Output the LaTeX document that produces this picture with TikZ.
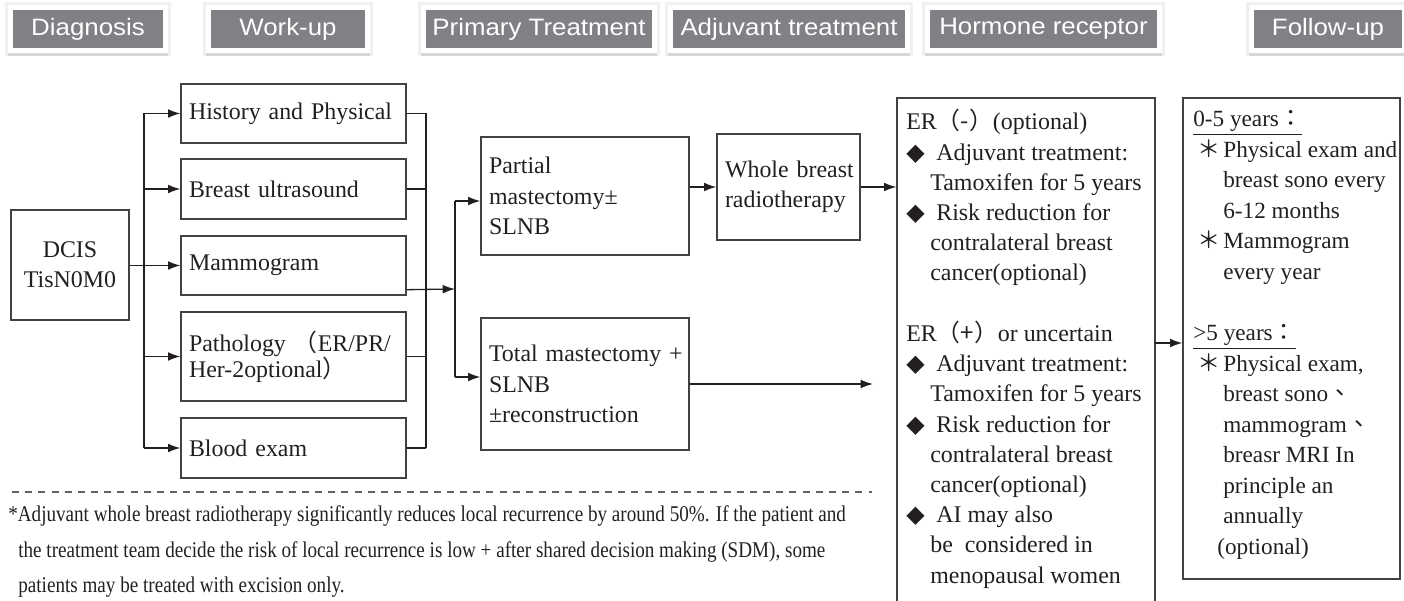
\documentclass[tikz,border=0pt]{standalone}
\usepackage{fontspec}
\setmainfont{Liberation Serif}
\newfontfamily\hdrfont[FakeStretch=1.09]{Liberation Sans}
\newfontfamily\notefont[FakeStretch=0.85]{Liberation Serif}
\newfontfamily\cjk{Noto Sans CJK TC}
\newfontfamily\symfont{DejaVu Sans}
\usetikzlibrary{arrows.meta,calc,shadows}
\definecolor{hdrgray}{RGB}{128,129,133}
\definecolor{ink}{RGB}{35,31,32}
\newcommand{\dia}{{\symfont ◆}}
\newcommand{\astk}{\hspace*{0.08cm}{\cjk ＊}}
\newcommand{\fw}[1]{{\cjk #1}}
\newcommand{\bodysize}{\fontsize{13.6}{17.2}\selectfont}
\tikzset{
  hdr/.style={fill=white,text=white,font=\hdrfont\fontsize{13.5}{14}\selectfont,
    minimum width=#1,minimum height=0.96cm,inner sep=0pt,
    path picture={\fill[hdrgray] ([shift={(0.1cm,0.1cm)}]path picture bounding box.south west)
      rectangle ([shift={(-0.1cm,-0.1cm)}]path picture bounding box.north east);},
    general shadow={shadow xshift=0pt,shadow yshift=0pt,opacity=0.12,fill=gray,draw=gray,line width=3pt},
    drop shadow={shadow xshift=0pt,shadow yshift=-1.5pt,opacity=0.22,fill=gray}},
  box/.style={draw=ink!85,line width=0.8pt,text=ink,font=\bodysize,align=left,
    inner xsep=0.16cm,inner ysep=0pt},
  txt/.style={text=ink,font=\bodysize,align=left,inner sep=0pt,anchor=north west},
  note/.style={text=ink,font=\notefont\fontsize{12.8}{20.4}\selectfont,align=left,
    inner sep=0pt,anchor=north west},
  link/.style={draw=ink,line width=0.75pt},
  arr/.style={link,-{Latex[length=7pt,width=5pt]}},
  sep/.style={draw=ink!70,line width=0.6pt,dash pattern=on 4pt off 3.5pt},
}
\begin{document}
\begin{tikzpicture}[x=0.02cm,y=-0.02cm]
    \useasboundingbox (0,0) rectangle (1404,601);
    % ------------- column headers -------------
    \node[hdr=3.2cm]  (hdiag)   at (88,29)     {Diagnosis};
    \node[hdr=3.28cm] (hwork)   at (288,29)    {Work-up};
    \node[hdr=4.72cm] (hprim)   at (539,29)    {Primary Treatment};
    \node[hdr=4.84cm] (hadj)    at (789,29)    {Adjuvant treatment};
    \node[hdr=4.74cm] (hhorm)   at (1043.5,29) {Hormone receptor};
    \node[hdr=3.16cm] (hfollow) at (1328,29)   {Follow-up};
    % ------------- diagnosis and work-up -------------
    \node[box,align=center,text width=2.04cm,minimum height=2.2cm] (dcis) at (70,265) {DCIS\\TisN0M0};
    \node[box,text width=4.18cm,minimum height=1.18cm] (hist)  at (293.5,113.5) {History and Physical};
    \node[box,text width=4.18cm,minimum height=1.2cm]  (sono)  at (293.5,189)   {Breast ultrasound};
    \node[box,text width=4.18cm,minimum height=1.18cm] (mammo) at (293.5,265.5) {Mammogram};
    \node[box,text width=4.18cm,minimum height=1.78cm,font=\fontsize{13.6}{14.8}\selectfont] (path) at (293.5,356.5)
      {Pathology \fw{（}ER/PR/\\Her-2optional\fw{）}};
    \node[box,text width=4.18cm,minimum height=1.2cm]  (blood) at (293.5,448)   {Blood exam};
    % left bus into the work-up boxes
    \coordinate (lbus) at (144,0);
    \draw[link] (lbus |- hist.west) -- (lbus |- blood.west);
    \foreach \n in {hist,sono,path,blood}
      \draw[arr] (lbus |- \n.west) -- (\n.west);
    \draw[arr] (dcis.east |- mammo.west) -- (mammo.west);
    % right bus out of the work-up boxes
    \coordinate (rbus) at (426,0);
    \foreach \n in {hist,sono,path,blood}
      \draw[link] (\n.east) -- (rbus |- \n.east);
    \draw[link] (rbus |- hist.east) -- (rbus |- blood.east);
    % ------------- primary and adjuvant treatment -------------
    \node[box,text width=3.84cm,minimum height=2.36cm] (partial) at (585,196) {Partial\\mastectomy±\\SLNB};
    \node[box,text width=3.84cm,minimum height=2.64cm] (total)   at (585,384) {\mbox{Total mastectomy +}\\SLNB\\±reconstruction};
    \node[box,text width=2.54cm,minimum height=2.12cm] (whole)   at (788.5,187) {\mbox{Whole breast}\\radiotherapy};
    \coordinate (split) at (455,289);
    \coordinate (sptop) at (455,201);
    \coordinate (spbot) at (455,377);
    \draw[arr] ([yshift=0.12cm]mammo.south east) -- (split);
    \draw[link] (sptop) -- (spbot);
    \draw[arr] (sptop) -- (sptop -| partial.west);
    \draw[arr] (spbot) -- (spbot -| total.west);
    \draw[arr] (partial.east |- whole.west) -- (whole.west);
    % ------------- hormone receptor -------------
    \node[box,minimum width=5.16cm,minimum height=10.1cm] (hormone) at (1026,350.5) {};
    \coordinate (totend) at (873,384);
    \draw[arr] (whole.east) -- (whole.east -| hormone.west);
    \draw[arr] (total.east) -- (totend);
    \node[txt] (hormtext) at (906,109) {ER\fw{（-）}(optional)\\
      \makebox[0.6cm][l]{\dia}Adjuvant treatment:\\
      \hspace*{0.48cm}Tamoxifen for 5 years\\
      \makebox[0.6cm][l]{\dia}Risk reduction for\\
      \hspace*{0.48cm}contralateral breast\\
      \hspace*{0.48cm}cancer(optional)\\[17.2pt]
      ER\fw{（+）}or uncertain\\
      \makebox[0.6cm][l]{\dia}Adjuvant treatment:\\
      \hspace*{0.48cm}Tamoxifen for 5 years\\
      \makebox[0.6cm][l]{\dia}Risk reduction for\\
      \hspace*{0.48cm}contralateral breast\\
      \hspace*{0.48cm}cancer(optional)\\
      \makebox[0.6cm][l]{\dia}AI may also\\
      \hspace*{0.48cm}be~ considered in\\
      \hspace*{0.48cm}menopausal women};
    % ------------- follow-up -------------
    \node[box,minimum width=4.34cm,minimum height=9.62cm] (follow) at (1291.5,338.5) {};
    \coordinate (hfjoin) at (1155,343);
    \draw[arr] (hfjoin) -- (hfjoin -| follow.west);
    \node[txt,font=\fontsize{13.2}{17.4}\selectfont] (followtext) at (1193,110) {\underline{0-5 years\fw{：}}\\
      \makebox[0.6cm][l]{\astk}Physical exam and\\
      \hspace*{0.6cm}breast sono every\\
      \hspace*{0.6cm}6-12 months\\
      \makebox[0.6cm][l]{\astk}Mammogram\\
      \hspace*{0.6cm}every year\\[17.4pt]
      \underline{>5 years\fw{：}}\\
      \makebox[0.6cm][l]{\astk}Physical exam,\\
      \hspace*{0.6cm}breast sono\fw{、}\\
      \hspace*{0.6cm}mammogram\fw{、}\\
      \hspace*{0.6cm}breasr MRI In\\
      \hspace*{0.6cm}principle an\\
      \hspace*{0.6cm}annually\\
      \hspace*{0.48cm}(optional)};
    % ------------- footnote -------------
    \coordinate (sepl) at (12,492);
    \coordinate (sepr) at (872,492);
    \draw[sep] (sepl) -- (sepr);
    \node[note] (footnote) at (8,505) {*Adjuvant whole breast radiotherapy significantly reduces local recurrence by around 50\%. If the patient and\\
      \hspace*{0.2cm}the treatment team decide the risk of local recurrence is low + after shared decision making (SDM), some\\
      \hspace*{0.2cm}patients may be treated with excision only.};
\end{tikzpicture}
\end{document}
